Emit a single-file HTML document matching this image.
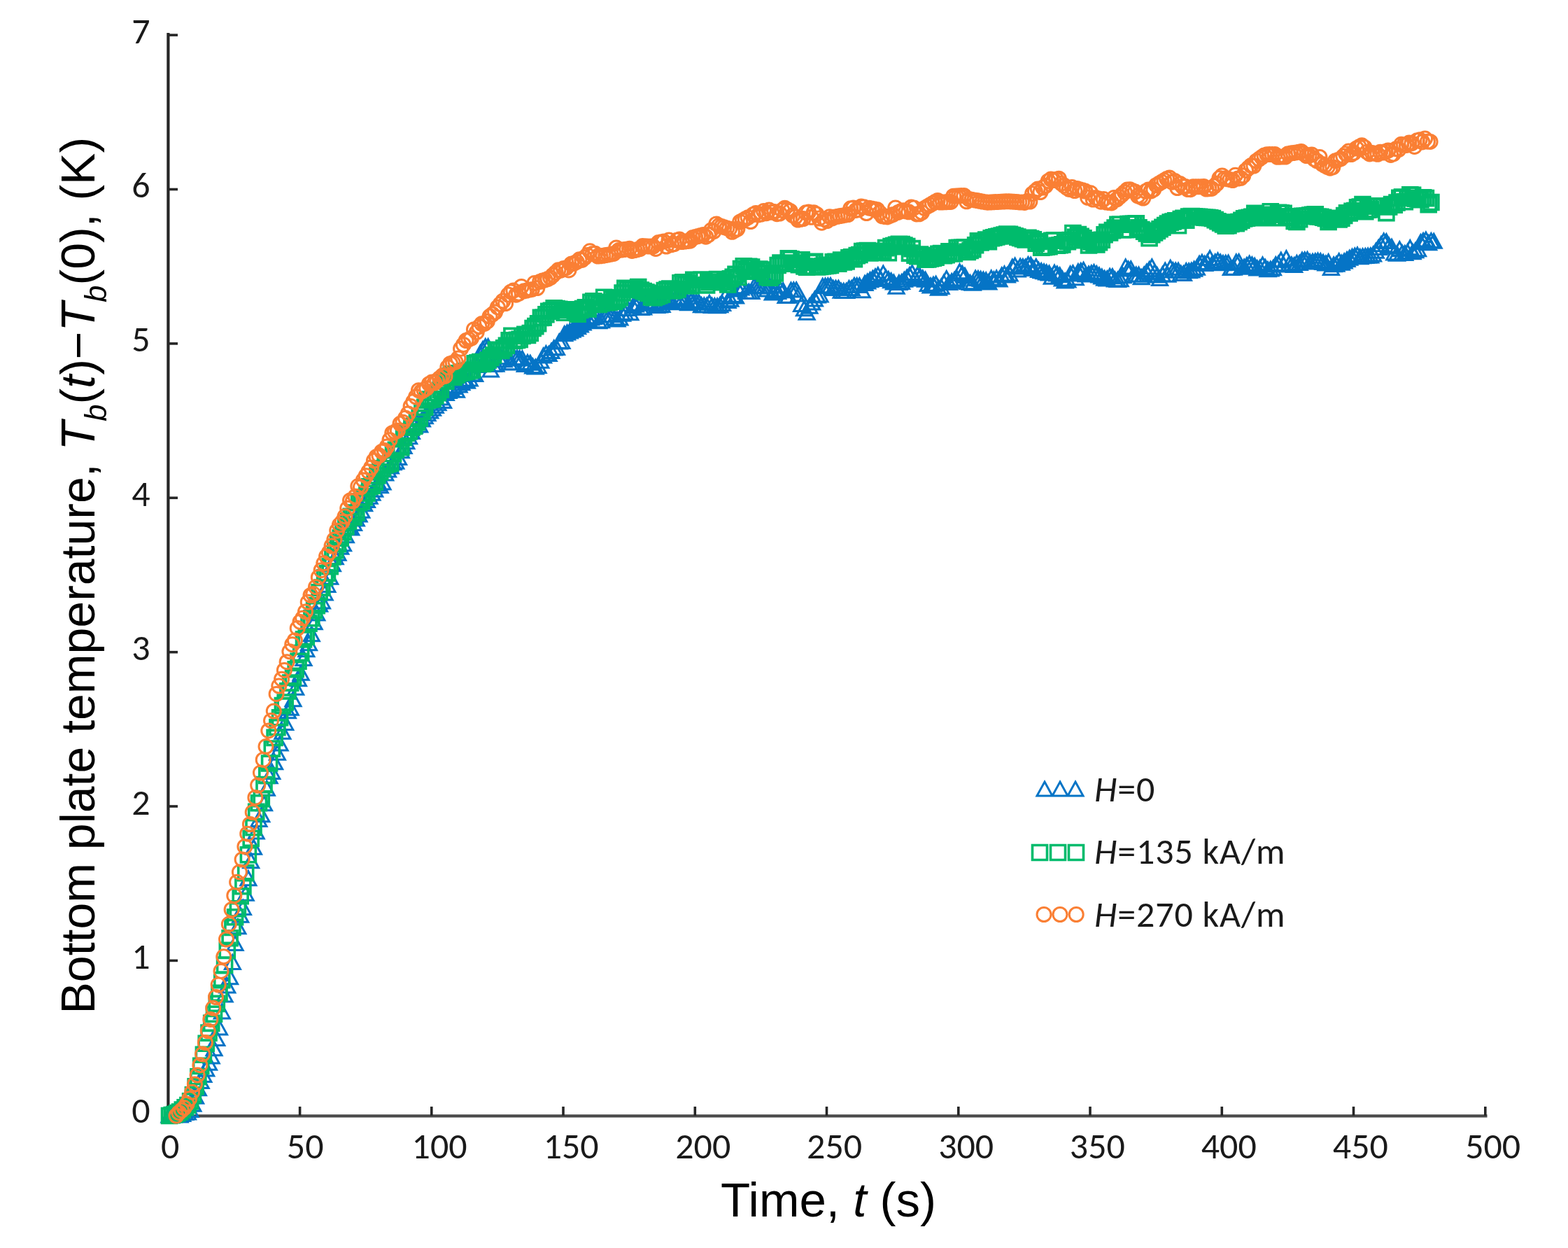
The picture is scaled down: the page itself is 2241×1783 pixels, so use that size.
<!DOCTYPE html>
<html><head><meta charset="utf-8"><title>Bottom plate temperature vs time</title>
<style>
html,body{margin:0;padding:0;background:#fff;}
svg{display:block;}
.tk{font-family:Carlito,"Liberation Sans",sans-serif;font-size:52px;fill:#1a1a1a;}
.ttl{font-family:"Liberation Sans",Arial,sans-serif;font-size:69px;fill:#000;}
.yt{font-size:68px;}
.lg{font-family:Carlito,"Liberation Sans",sans-serif;font-size:52px;fill:#1a1a1a;letter-spacing:0.9px;}
</style></head><body>
<svg width="2241" height="1783" viewBox="0 0 2241 1783">
<rect width="2241" height="1783" fill="#fff"/>
<g>

<g stroke="#262626" fill="none">
<line x1="240.4" y1="47" x2="240.4" y2="1596.5" stroke-width="4.2"/>
<line x1="238.3" y1="1594.4" x2="2125.5" y2="1594.4" stroke-width="4.2" stroke="#4a4a4a"/>
<line x1="240" y1="1592.8" x2="254" y2="1592.8" stroke-width="3.6"/>
<line x1="240" y1="1372.4" x2="254" y2="1372.4" stroke-width="3.6"/>
<line x1="240" y1="1152" x2="254" y2="1152" stroke-width="3.6"/>
<line x1="240" y1="931.7" x2="254" y2="931.7" stroke-width="3.6"/>
<line x1="240" y1="711.3" x2="254" y2="711.3" stroke-width="3.6"/>
<line x1="240" y1="490.9" x2="254" y2="490.9" stroke-width="3.6"/>
<line x1="240" y1="270.5" x2="254" y2="270.5" stroke-width="3.6"/>
<line x1="240" y1="50.1" x2="254" y2="50.1" stroke-width="3.6"/>
<line x1="428.6" y1="1581" x2="428.6" y2="1594" stroke-width="3.6"/>
<line x1="616.8" y1="1581" x2="616.8" y2="1594" stroke-width="3.6"/>
<line x1="805" y1="1581" x2="805" y2="1594" stroke-width="3.6"/>
<line x1="993.3" y1="1581" x2="993.3" y2="1594" stroke-width="3.6"/>
<line x1="1181.5" y1="1581" x2="1181.5" y2="1594" stroke-width="3.6"/>
<line x1="1369.8" y1="1581" x2="1369.8" y2="1594" stroke-width="3.6"/>
<line x1="1558" y1="1581" x2="1558" y2="1594" stroke-width="3.6"/>
<line x1="1746.3" y1="1581" x2="1746.3" y2="1594" stroke-width="3.6"/>
<line x1="1934.5" y1="1581" x2="1934.5" y2="1594" stroke-width="3.6"/>
<line x1="2122.8" y1="1581" x2="2122.8" y2="1594" stroke-width="3.6"/>
</g>
<g class="tk">
<text x="214.5" y="1604.3" text-anchor="end">0</text>
<text x="214.5" y="1383.9" text-anchor="end">1</text>
<text x="214.5" y="1163.5" text-anchor="end">2</text>
<text x="214.5" y="943.2" text-anchor="end">3</text>
<text x="214.5" y="722.8" text-anchor="end">4</text>
<text x="214.5" y="502.4" text-anchor="end">5</text>
<text x="214.5" y="282" text-anchor="end">6</text>
<text x="214.5" y="61.6" text-anchor="end">7</text>
<text x="243.2" y="1655" text-anchor="middle">0</text>
<text x="436.2" y="1655" text-anchor="middle">50</text>
<text x="628.1" y="1655" text-anchor="middle">100</text>
<text x="816.2" y="1655" text-anchor="middle">150</text>
<text x="1004.8" y="1655" text-anchor="middle">200</text>
<text x="1192.6" y="1655" text-anchor="middle">250</text>
<text x="1380.7" y="1655" text-anchor="middle">300</text>
<text x="1568.4" y="1655" text-anchor="middle">350</text>
<text x="1756.3" y="1655" text-anchor="middle">400</text>
<text x="1944.4" y="1655" text-anchor="middle">450</text>
<text x="2133.7" y="1655" text-anchor="middle">500</text>
</g>
<text class="ttl" x="1030" y="1738">Time, <tspan font-style="italic">t</tspan> (s)</text>
<text class="ttl" style="font-size:68px" transform="translate(135 1448.5) rotate(-90)">Bottom plate temperature, <tspan font-style="italic">T</tspan><tspan font-style="italic" font-size="44" dy="17">b</tspan><tspan dy="-17">(</tspan><tspan font-style="italic">t</tspan>)−<tspan font-style="italic">T</tspan><tspan font-style="italic" font-size="44" dy="17">b</tspan><tspan dy="-17">(0), (K)</tspan></text>
<path fill="none" stroke="#0574c6" stroke-width="3" stroke-linejoin="miter" d="M242 1583l11 20h-22zM245.8 1583l11 20h-22zM249.5 1583l11 20h-22zM253.3 1583l11 20h-22zM257.1 1583l11 20h-22zM260.8 1581.5l11 20h-22zM264.6 1579.5l11 20h-22zM268.4 1579.1l11 20h-22zM272.1 1575.5l11 20h-22zM275.9 1567.2l11 20h-22zM279.6 1556.2l11 20h-22zM283.4 1544.8l11 20h-22zM287.2 1534.6l11 20h-22zM290.9 1525.6l11 20h-22zM294.7 1517l11 20h-22zM298.5 1508.3l11 20h-22zM302.2 1498.9l11 20h-22zM306 1487.7l11 20h-22zM309.8 1473.6l11 20h-22zM313.5 1458.1l11 20h-22zM317.3 1434.9l11 20h-22zM321.1 1411.1l11 20h-22zM324.8 1398l11 20h-22zM328.6 1385.8l11 20h-22zM332.4 1364.5l11 20h-22zM336.1 1337.6l11 20h-22zM339.9 1313.7l11 20h-22zM343.7 1297.3l11 20h-22zM347.4 1286.4l11 20h-22zM351.2 1266.3l11 20h-22zM354.9 1244.7l11 20h-22zM358.7 1219.7l11 20h-22zM362.5 1200.3l11 20h-22zM366.2 1178.1l11 20h-22zM370 1160.5l11 20h-22zM373.8 1153.7l11 20h-22zM377.5 1137.8l11 20h-22zM381.3 1116.2l11 20h-22zM385.1 1098.7l11 20h-22zM388.8 1092.4l11 20h-22zM392.6 1078.7l11 20h-22zM396.4 1065.3l11 20h-22zM400.1 1052.1l11 20h-22zM403.9 1035.2l11 20h-22zM407.7 1022.4l11 20h-22zM411.4 1005.8l11 20h-22zM415.2 1001.2l11 20h-22zM419 988.7l11 20h-22zM422.7 972.3l11 20h-22zM426.5 959.8l11 20h-22zM430.2 951.2l11 20h-22zM434 930.6l11 20h-22zM437.8 917.8l11 20h-22zM441.5 908.8l11 20h-22zM445.3 895.8l11 20h-22zM449.1 878.8l11 20h-22zM452.8 865.9l11 20h-22zM456.6 853.3l11 20h-22zM460.4 848.9l11 20h-22zM464.1 836.9l11 20h-22zM467.9 825.4l11 20h-22zM471.7 814.3l11 20h-22zM475.4 795.8l11 20h-22zM479.2 785.8l11 20h-22zM483 780.3l11 20h-22zM486.7 771.3l11 20h-22zM490.5 766.8l11 20h-22zM494.3 754.8l11 20h-22zM498 743.2l11 20h-22zM501.8 744.1l11 20h-22zM505.5 737.4l11 20h-22zM509.3 731l11 20h-22zM513.1 725l11 20h-22zM516.8 719.2l11 20h-22zM520.6 709.7l11 20h-22zM524.4 704.4l11 20h-22zM528.1 699.2l11 20h-22zM531.9 694.2l11 20h-22zM535.7 689.3l11 20h-22zM539.4 680.5l11 20h-22zM543.2 683.7l11 20h-22zM547 678.9l11 20h-22zM550.7 666l11 20h-22zM554.5 661l11 20h-22zM558.3 656l11 20h-22zM562 650.7l11 20h-22zM565.8 649.3l11 20h-22zM569.6 643.6l11 20h-22zM573.3 633.7l11 20h-22zM577.1 627.4l11 20h-22zM580.8 620.8l11 20h-22zM584.6 613.8l11 20h-22zM588.4 606.4l11 20h-22zM592.1 598.6l11 20h-22zM595.9 592.9l11 20h-22zM599.7 596.9l11 20h-22zM603.4 588.9l11 20h-22zM607.2 584.8l11 20h-22zM611 580.8l11 20h-22zM614.7 577l11 20h-22zM618.5 573.2l11 20h-22zM622.3 569.4l11 20h-22zM626 565.7l11 20h-22zM629.8 557.9l11 20h-22zM633.6 562.5l11 20h-22zM637.3 551.4l11 20h-22zM641.1 548.4l11 20h-22zM644.9 545.4l11 20h-22zM648.6 542.4l11 20h-22zM652.4 547.3l11 20h-22zM656.1 540l11 20h-22zM659.9 536.7l11 20h-22zM663.7 533.5l11 20h-22zM667.4 534.2l11 20h-22zM671.2 530.9l11 20h-22zM675 523.7l11 20h-22zM678.7 524.4l11 20h-22zM682.5 511.5l11 20h-22zM686.3 494.2l11 20h-22zM690 488.6l11 20h-22zM693.8 484.7l11 20h-22zM697.6 484.7l11 20h-22zM701.3 518l11 20h-22zM705.1 510.6l11 20h-22zM708.9 510.3l11 20h-22zM712.6 499.8l11 20h-22zM716.4 499.8l11 20h-22zM720.2 503.8l11 20h-22zM723.9 499.8l11 20h-22zM727.7 507.8l11 20h-22zM731.4 508l11 20h-22zM735.2 500.5l11 20h-22zM739 500.9l11 20h-22zM742.7 501.4l11 20h-22zM746.5 501.9l11 20h-22zM750.3 510.6l11 20h-22zM754 507.4l11 20h-22zM757.8 508.3l11 20h-22zM761.6 513.1l11 20h-22zM765.3 514l11 20h-22zM769.1 512.4l11 20h-22zM772.9 505.2l11 20h-22zM776.6 497.9l11 20h-22zM780.4 494.7l11 20h-22zM784.2 495.5l11 20h-22zM787.9 491.4l11 20h-22zM791.7 486.9l11 20h-22zM795.5 486.4l11 20h-22zM799.2 477.9l11 20h-22zM803 477.4l11 20h-22zM806.7 466.7l11 20h-22zM810.5 464.9l11 20h-22zM814.3 463.1l11 20h-22zM818 461.3l11 20h-22zM821.8 459.5l11 20h-22zM825.6 456.8l11 20h-22zM829.3 453.9l11 20h-22zM833.1 451l11 20h-22zM836.9 448.1l11 20h-22zM840.6 445.2l11 20h-22zM844.4 443.9l11 20h-22zM848.2 442.8l11 20h-22zM851.9 441.8l11 20h-22zM855.7 448.8l11 20h-22zM859.5 447.7l11 20h-22zM863.2 439.7l11 20h-22zM867 439.7l11 20h-22zM870.8 439.7l11 20h-22zM874.5 439.8l11 20h-22zM878.3 443.8l11 20h-22zM882 446l11 20h-22zM885.8 444.1l11 20h-22zM889.6 438.3l11 20h-22zM893.3 436.5l11 20h-22zM897.1 430.6l11 20h-22zM900.9 436.8l11 20h-22zM904.6 427l11 20h-22zM908.4 425.1l11 20h-22zM912.2 423.3l11 20h-22zM915.9 429.6l11 20h-22zM919.7 429.1l11 20h-22zM923.5 420.5l11 20h-22zM927.2 419.9l11 20h-22zM931 423.3l11 20h-22zM934.8 422.8l11 20h-22zM938.5 426.4l11 20h-22zM942.3 426l11 20h-22zM946.1 425.6l11 20h-22zM949.8 417.1l11 20h-22zM953.6 420.5l11 20h-22zM957.3 419.1l11 20h-22zM961.1 421.7l11 20h-22zM964.9 416.3l11 20h-22zM968.6 414.9l11 20h-22zM972.4 414.4l11 20h-22zM976.2 415.9l11 20h-22zM979.9 417.3l11 20h-22zM983.7 422.8l11 20h-22zM987.5 420.2l11 20h-22zM991.2 421.1l11 20h-22zM995 421.3l11 20h-22zM998.8 421.5l11 20h-22zM1002.5 425.7l11 20h-22zM1006.3 425.9l11 20h-22zM1010.1 426.1l11 20h-22zM1013.8 422.3l11 20h-22zM1017.6 426.4l11 20h-22zM1021.4 426.6l11 20h-22zM1025.1 426.8l11 20h-22zM1028.9 425.7l11 20h-22zM1032.6 423.6l11 20h-22zM1036.4 413.5l11 20h-22zM1040.2 419.4l11 20h-22zM1043.9 417.3l11 20h-22zM1047.7 411.2l11 20h-22zM1051.5 413.1l11 20h-22zM1055.2 403l11 20h-22zM1059 400.9l11 20h-22zM1062.8 398.8l11 20h-22zM1066.5 406.3l11 20h-22zM1070.3 406.4l11 20h-22zM1074.1 406.5l11 20h-22zM1077.8 398.6l11 20h-22zM1081.6 398.6l11 20h-22zM1085.4 398.7l11 20h-22zM1089.1 398.8l11 20h-22zM1092.9 398.9l11 20h-22zM1096.7 403l11 20h-22zM1100.4 399l11 20h-22zM1104.2 408.1l11 20h-22zM1107.9 405.2l11 20h-22zM1111.7 406.4l11 20h-22zM1115.5 403.5l11 20h-22zM1119.2 404.7l11 20h-22zM1123 412.5l11 20h-22zM1126.8 412.3l11 20h-22zM1130.5 404.1l11 20h-22zM1134.3 403.9l11 20h-22zM1138.1 403.8l11 20h-22zM1141.8 410.1l11 20h-22zM1145.6 424.4l11 20h-22zM1149.4 430.7l11 20h-22zM1153.1 436.3l11 20h-22zM1156.9 427.2l11 20h-22zM1160.7 422.1l11 20h-22zM1164.4 417l11 20h-22zM1168.2 412l11 20h-22zM1172 410.9l11 20h-22zM1175.7 398.4l11 20h-22zM1179.5 398.2l11 20h-22zM1183.3 397.9l11 20h-22zM1187 397.7l11 20h-22zM1190.8 401.4l11 20h-22zM1194.5 401.3l11 20h-22zM1198.3 401.3l11 20h-22zM1202.1 405.3l11 20h-22zM1205.8 405.4l11 20h-22zM1209.6 405.4l11 20h-22zM1213.4 401.5l11 20h-22zM1217.1 401.5l11 20h-22zM1220.9 397.5l11 20h-22zM1224.7 397.6l11 20h-22zM1228.4 397.6l11 20h-22zM1232.2 404.8l11 20h-22zM1236 394.4l11 20h-22zM1239.7 392l11 20h-22zM1243.5 389.7l11 20h-22zM1247.3 387.3l11 20h-22zM1251 384.9l11 20h-22zM1254.8 382.6l11 20h-22zM1258.6 388.2l11 20h-22zM1262.3 380.1l11 20h-22zM1266.1 386.3l11 20h-22zM1269.8 388.6l11 20h-22zM1273.6 390.8l11 20h-22zM1277.4 393.1l11 20h-22zM1281.1 399.3l11 20h-22zM1284.9 393.6l11 20h-22zM1288.7 392.6l11 20h-22zM1292.4 389.3l11 20h-22zM1296.2 386l11 20h-22zM1300 382.7l11 20h-22zM1303.7 379.4l11 20h-22zM1307.5 387.9l11 20h-22zM1311.3 382.2l11 20h-22zM1315 384.5l11 20h-22zM1318.8 386.9l11 20h-22zM1322.6 389.2l11 20h-22zM1326.3 395.6l11 20h-22zM1330.1 397.9l11 20h-22zM1333.9 396.3l11 20h-22zM1337.6 395.3l11 20h-22zM1341.4 401.3l11 20h-22zM1345.1 399.4l11 20h-22zM1348.9 393.4l11 20h-22zM1352.7 387.5l11 20h-22zM1356.4 393.5l11 20h-22zM1360.2 391.6l11 20h-22zM1364 389.6l11 20h-22zM1367.7 387.7l11 20h-22zM1371.5 377.7l11 20h-22zM1375.3 380.4l11 20h-22zM1379 383.5l11 20h-22zM1382.8 392.8l11 20h-22zM1386.6 393.6l11 20h-22zM1390.3 394.3l11 20h-22zM1394.1 387l11 20h-22zM1397.9 387.7l11 20h-22zM1401.6 388.4l11 20h-22zM1405.4 389.2l11 20h-22zM1409.2 389.9l11 20h-22zM1412.9 392.9l11 20h-22zM1416.7 386.9l11 20h-22zM1420.4 388.9l11 20h-22zM1424.2 386.9l11 20h-22zM1428 388.9l11 20h-22zM1431.7 382.9l11 20h-22zM1435.5 380.9l11 20h-22zM1439.3 383l11 20h-22zM1443 381l11 20h-22zM1446.8 371l11 20h-22zM1450.6 369.1l11 20h-22zM1454.3 375.1l11 20h-22zM1458.1 370.2l11 20h-22zM1461.9 370.6l11 20h-22zM1465.6 371.1l11 20h-22zM1469.4 367.5l11 20h-22zM1473.2 368.2l11 20h-22zM1476.9 373.4l11 20h-22zM1480.7 370.5l11 20h-22zM1484.5 375.6l11 20h-22zM1488.2 376.7l11 20h-22zM1492 377.8l11 20h-22zM1495.7 378.9l11 20h-22zM1499.5 380.1l11 20h-22zM1503.3 385.3l11 20h-22zM1507 379.2l11 20h-22zM1510.8 381l11 20h-22zM1514.6 382.8l11 20h-22zM1518.3 388.1l11 20h-22zM1522.1 391.1l11 20h-22zM1525.9 390l11 20h-22zM1529.6 380.9l11 20h-22zM1533.4 379.8l11 20h-22zM1537.2 386.7l11 20h-22zM1540.9 377.6l11 20h-22zM1544.7 376.5l11 20h-22zM1548.5 375.3l11 20h-22zM1552.2 382.1l11 20h-22zM1556 381l11 20h-22zM1559.8 379.8l11 20h-22zM1563.5 378.7l11 20h-22zM1567.3 380.7l11 20h-22zM1571 382.9l11 20h-22zM1574.8 385.1l11 20h-22zM1578.6 387.3l11 20h-22zM1582.3 387.9l11 20h-22zM1586.1 384.3l11 20h-22zM1589.9 384.7l11 20h-22zM1593.6 389.1l11 20h-22zM1597.4 389.4l11 20h-22zM1601.2 388.8l11 20h-22zM1604.9 383.8l11 20h-22zM1608.7 370.9l11 20h-22zM1612.5 374l11 20h-22zM1616.2 373.8l11 20h-22zM1620 381.9l11 20h-22zM1623.8 382.1l11 20h-22zM1627.5 382.2l11 20h-22zM1631.3 385.7l11 20h-22zM1635.1 382l11 20h-22zM1638.8 378.2l11 20h-22zM1642.6 374.5l11 20h-22zM1646.3 370.8l11 20h-22zM1650.1 378.9l11 20h-22zM1653.9 382.9l11 20h-22zM1657.6 387.6l11 20h-22zM1661.4 381.8l11 20h-22zM1665.2 376l11 20h-22zM1668.9 382.2l11 20h-22zM1672.7 372.3l11 20h-22zM1676.5 375.9l11 20h-22zM1680.2 376l11 20h-22zM1684 376.2l11 20h-22zM1687.8 380.3l11 20h-22zM1691.5 380.5l11 20h-22zM1695.3 376.6l11 20h-22zM1699.1 376.8l11 20h-22zM1702.8 376.1l11 20h-22zM1706.6 374.2l11 20h-22zM1710.4 372.3l11 20h-22zM1714.1 366.3l11 20h-22zM1717.9 364.4l11 20h-22zM1721.6 366.4l11 20h-22zM1725.4 364.5l11 20h-22zM1729.2 358.6l11 20h-22zM1732.9 365.7l11 20h-22zM1736.7 363.8l11 20h-22zM1740.5 361.9l11 20h-22zM1744.2 364l11 20h-22zM1748 365.7l11 20h-22zM1751.8 365.4l11 20h-22zM1755.5 365l11 20h-22zM1759.3 372.6l11 20h-22zM1763.1 372.3l11 20h-22zM1766.8 363.9l11 20h-22zM1770.6 363.6l11 20h-22zM1774.4 371.2l11 20h-22zM1778.1 371l11 20h-22zM1781.9 368.6l11 20h-22zM1785.7 366.2l11 20h-22zM1789.4 367.8l11 20h-22zM1793.2 369.4l11 20h-22zM1796.9 372.9l11 20h-22zM1800.7 372.4l11 20h-22zM1804.5 367.9l11 20h-22zM1808.2 371.3l11 20h-22zM1812 374.8l11 20h-22zM1815.8 374.1l11 20h-22zM1819.5 372.8l11 20h-22zM1823.3 367.6l11 20h-22zM1827.1 366.4l11 20h-22zM1830.8 361.2l11 20h-22zM1834.6 367.9l11 20h-22zM1838.4 358.7l11 20h-22zM1842.1 367.1l11 20h-22zM1845.9 367.8l11 20h-22zM1849.7 368.6l11 20h-22zM1853.4 365.4l11 20h-22zM1857.2 365.5l11 20h-22zM1861 361.2l11 20h-22zM1864.7 360.8l11 20h-22zM1868.5 360.4l11 20h-22zM1872.2 363.9l11 20h-22zM1876 363.3l11 20h-22zM1879.8 362.8l11 20h-22zM1883.5 362.2l11 20h-22zM1887.3 362.7l11 20h-22zM1891.1 364.4l11 20h-22zM1894.8 366l11 20h-22zM1898.6 363.7l11 20h-22zM1902.4 372.4l11 20h-22zM1906.1 367.8l11 20h-22zM1909.9 367.2l11 20h-22zM1913.7 362.6l11 20h-22zM1917.4 365.2l11 20h-22zM1921.2 362.9l11 20h-22zM1925 360.6l11 20h-22zM1928.7 358.3l11 20h-22zM1932.5 356.4l11 20h-22zM1936.3 355.1l11 20h-22zM1940 353.9l11 20h-22zM1943.8 356.7l11 20h-22zM1947.5 355.8l11 20h-22zM1951.3 355.5l11 20h-22zM1955.1 355.2l11 20h-22zM1958.8 354.9l11 20h-22zM1962.6 353.1l11 20h-22zM1966.4 348.3l11 20h-22zM1970.1 343.5l11 20h-22zM1973.9 338.7l11 20h-22zM1977.7 333.9l11 20h-22zM1981.4 334.6l11 20h-22zM1985.2 340.4l11 20h-22zM1989 342.3l11 20h-22zM1992.7 350.9l11 20h-22zM1996.5 352.2l11 20h-22zM2000.3 345.6l11 20h-22zM2004 351l11 20h-22zM2007.8 351.5l11 20h-22zM2011.6 349.6l11 20h-22zM2015.3 343.7l11 20h-22zM2019.1 349.8l11 20h-22zM2022.8 347.8l11 20h-22zM2026.6 345.7l11 20h-22zM2030.4 335.6l11 20h-22zM2034.1 333.5l11 20h-22zM2037.9 332l11 20h-22zM2041.7 336.8l11 20h-22zM2045.4 333.6l11 20h-22zM2049.2 334.3l11 20h-22z"/>
<path fill="none" stroke="#00bb6c" stroke-width="3.6" d="M231.5 1583.5h21v21h-21zM235.3 1582.6h21v21h-21zM239 1581.6h21v21h-21zM242.8 1579.9h21v21h-21zM246.6 1578h21v21h-21zM250.3 1575h21v21h-21zM254.1 1571.8h21v21h-21zM257.9 1568.5h21v21h-21zM261.6 1562.9h21v21h-21zM265.4 1553.8h21v21h-21zM269.1 1541.9h21v21h-21zM272.9 1527.8h21v21h-21zM276.7 1512.4h21v21h-21zM280.4 1496.3h21v21h-21zM284.2 1480.3h21v21h-21zM288 1465.1h21v21h-21zM291.7 1451.4h21v21h-21zM295.5 1438.3h21v21h-21zM299.3 1423.4h21v21h-21zM303 1408.4h21v21h-21zM306.8 1389.7h21v21h-21zM310.6 1368.1h21v21h-21zM314.3 1347.4h21v21h-21zM318.1 1329.8h21v21h-21zM321.9 1314.4h21v21h-21zM325.6 1299.8h21v21h-21zM329.4 1287.8h21v21h-21zM333.2 1269.7h21v21h-21zM336.9 1255.7h21v21h-21zM340.7 1236.6h21v21h-21zM344.4 1210.7h21v21h-21zM348.2 1187.4h21v21h-21zM352 1171.7h21v21h-21zM355.7 1149.3h21v21h-21zM359.5 1136.8h21v21h-21zM363.3 1130.7h21v21h-21zM367 1110.6h21v21h-21zM370.8 1097.5h21v21h-21zM374.6 1080h21v21h-21zM378.3 1059.1h21v21h-21zM382.1 1043.4h21v21h-21zM385.9 1028.6h21v21h-21zM389.6 1014.7h21v21h-21zM393.4 997.6h21v21h-21zM397.2 993h21v21h-21zM400.9 976.9h21v21h-21zM404.7 965.1h21v21h-21zM408.5 957.4h21v21h-21zM412.2 945.8h21v21h-21zM416 934.2h21v21h-21zM419.7 922.5h21v21h-21zM423.5 903h21v21h-21zM427.3 899.5h21v21h-21zM431 880.1h21v21h-21zM434.8 872.8h21v21h-21zM438.6 861.6h21v21h-21zM442.3 854.6h21v21h-21zM446.1 835.8h21v21h-21zM449.9 829.1h21v21h-21zM453.6 814.7h21v21h-21zM457.4 808.5h21v21h-21zM461.2 798.6h21v21h-21zM464.9 785h21v21h-21zM468.7 775.7h21v21h-21zM472.5 766.7h21v21h-21zM476.2 758.1h21v21h-21zM480 749.8h21v21h-21zM483.8 741.9h21v21h-21zM487.5 734.4h21v21h-21zM491.3 727.3h21v21h-21zM495 728.5h21v21h-21zM498.8 722h21v21h-21zM502.6 707.7h21v21h-21zM506.3 705.7h21v21h-21zM510.1 699.9h21v21h-21zM513.9 694.3h21v21h-21zM517.6 684.8h21v21h-21zM521.4 683.4h21v21h-21zM525.2 678.2h21v21h-21zM528.9 669h21v21h-21zM532.7 663.9h21v21h-21zM536.5 658.7h21v21h-21zM540.2 653.6h21v21h-21zM544 652.4h21v21h-21zM547.8 651.1h21v21h-21zM551.5 637.7h21v21h-21zM555.3 632.2h21v21h-21zM559.1 626.6h21v21h-21zM562.8 628.7h21v21h-21zM566.6 614.7h21v21h-21zM570.3 608.3h21v21h-21zM574.1 606h21v21h-21zM577.9 600.2h21v21h-21zM581.6 598.4h21v21h-21zM585.4 592.6h21v21h-21zM589.2 586.9h21v21h-21zM592.9 577.1h21v21h-21zM596.7 571.3h21v21h-21zM600.5 561.5h21v21h-21zM604.2 560.1h21v21h-21zM608 559.6h21v21h-21zM611.8 555.1h21v21h-21zM615.5 550.6h21v21h-21zM619.3 546.1h21v21h-21zM623.1 533.6h21v21h-21zM626.8 534.1h21v21h-21zM630.6 526.9h21v21h-21zM634.4 523.7h21v21h-21zM638.1 528.5h21v21h-21zM641.9 525.3h21v21h-21zM645.6 522.7h21v21h-21zM649.4 521.7h21v21h-21zM653.2 520.8h21v21h-21zM656.9 519.9h21v21h-21zM660.7 519h21v21h-21zM664.5 518h21v21h-21zM668.2 508.9h21v21h-21zM672 507.7h21v21h-21zM675.8 506.6h21v21h-21zM679.5 509.5h21v21h-21zM683.3 507.7h21v21h-21zM687.1 504.1h21v21h-21zM690.8 500.5h21v21h-21zM694.6 497h21v21h-21zM698.4 489.4h21v21h-21zM702.1 489.9h21v21h-21zM705.9 490.4h21v21h-21zM709.7 486.9h21v21h-21zM713.4 483.3h21v21h-21zM717.2 475.8h21v21h-21zM720.9 469.4h21v21h-21zM724.7 476.4h21v21h-21zM728.5 475.4h21v21h-21zM732.2 474.4h21v21h-21zM736 469.4h21v21h-21zM739.8 467.4h21v21h-21zM743.5 468.5h21v21h-21zM747.3 465.5h21v21h-21zM751.1 458.5h21v21h-21zM754.8 455.6h21v21h-21zM758.6 451.8h21v21h-21zM762.4 443.4h21v21h-21zM766.1 443.1h21v21h-21zM769.9 438.7h21v21h-21zM773.7 434.3h21v21h-21zM777.4 433.2h21v21h-21zM781.2 429.9h21v21h-21zM785 430.6h21v21h-21zM788.7 431.3h21v21h-21zM792.5 432h21v21h-21zM796.2 436.2h21v21h-21zM800 432.1h21v21h-21zM803.8 432h21v21h-21zM807.5 431.9h21v21h-21zM811.3 435.8h21v21h-21zM815.1 438.3h21v21h-21zM818.8 432.5h21v21h-21zM822.6 430.6h21v21h-21zM826.4 428.8h21v21h-21zM830.1 430.9h21v21h-21zM833.9 421.3h21v21h-21zM837.7 419.7h21v21h-21zM841.4 422h21v21h-21zM845.2 424.4h21v21h-21zM849 422.8h21v21h-21zM852.7 414.3h21v21h-21zM856.5 421.8h21v21h-21zM860.3 421.3h21v21h-21zM864 416.8h21v21h-21zM867.8 420.3h21v21h-21zM871.5 417.5h21v21h-21zM875.3 414.8h21v21h-21zM879.1 408h21v21h-21zM882.8 401.2h21v21h-21zM886.6 402.7h21v21h-21zM890.4 403h21v21h-21zM894.1 403.2h21v21h-21zM897.9 403.4h21v21h-21zM901.7 399.6h21v21h-21zM905.4 404h21v21h-21zM909.2 405.5h21v21h-21zM913 407h21v21h-21zM916.7 408.4h21v21h-21zM920.5 413.9h21v21h-21zM924.3 414.8h21v21h-21zM928 413.2h21v21h-21zM931.8 411.7h21v21h-21zM935.6 410.1h21v21h-21zM939.3 404.5h21v21h-21zM943.1 403.1h21v21h-21zM946.8 402h21v21h-21zM950.6 405h21v21h-21zM954.4 403.9h21v21h-21zM958.1 402.8h21v21h-21zM961.9 393.8h21v21h-21zM965.7 392.8h21v21h-21zM969.4 395.8h21v21h-21zM973.2 394.8h21v21h-21zM977 397.9h21v21h-21zM980.7 389.3h21v21h-21zM984.5 389.2h21v21h-21zM988.3 389.2h21v21h-21zM992 389.1h21v21h-21zM995.8 389h21v21h-21zM999.6 396.9h21v21h-21zM1003.3 392.8h21v21h-21zM1007.1 392.7h21v21h-21zM1010.9 392.6h21v21h-21zM1014.6 388.5h21v21h-21zM1018.4 392.3h21v21h-21zM1022.1 392.2h21v21h-21zM1025.9 392.1h21v21h-21zM1029.7 396h21v21h-21zM1033.4 387.9h21v21h-21zM1037.2 385.3h21v21h-21zM1041 381.4h21v21h-21zM1044.7 385.5h21v21h-21zM1048.5 373.6h21v21h-21zM1052.3 369.7h21v21h-21zM1056 377.3h21v21h-21zM1059.8 370.2h21v21h-21zM1063.6 371.1h21v21h-21zM1067.3 376h21v21h-21zM1071.1 376.9h21v21h-21zM1074.9 374h21v21h-21zM1078.6 375.1h21v21h-21zM1082.4 380.1h21v21h-21zM1086.2 385.2h21v21h-21zM1089.9 386.3h21v21h-21zM1093.7 383.4h21v21h-21zM1097.4 380h21v21h-21zM1101.2 368.5h21v21h-21zM1105 365.1h21v21h-21zM1108.7 365.7h21v21h-21zM1112.5 366.2h21v21h-21zM1116.3 358.8h21v21h-21zM1120 359.9h21v21h-21zM1123.8 365.1h21v21h-21zM1127.6 366.3h21v21h-21zM1131.3 367.6h21v21h-21zM1135.1 360.8h21v21h-21zM1138.9 370h21v21h-21zM1142.6 371.3h21v21h-21zM1146.4 364.4h21v21h-21zM1150.2 363.9h21v21h-21zM1153.9 363.4h21v21h-21zM1157.7 370.9h21v21h-21zM1161.5 370.4h21v21h-21zM1165.2 369.9h21v21h-21zM1169 369.4h21v21h-21zM1172.8 368.9h21v21h-21zM1176.5 368.4h21v21h-21zM1180.3 363.9h21v21h-21zM1184 363.3h21v21h-21zM1187.8 366.2h21v21h-21zM1191.6 361.1h21v21h-21zM1195.3 364h21v21h-21zM1199.1 363h21v21h-21zM1202.9 357.9h21v21h-21zM1206.6 356.8h21v21h-21zM1210.4 359.7h21v21h-21zM1214.2 354.6h21v21h-21zM1217.9 353.5h21v21h-21zM1221.7 348.6h21v21h-21zM1225.5 348.1h21v21h-21zM1229.2 347.5h21v21h-21zM1233 351h21v21h-21zM1236.8 350.4h21v21h-21zM1240.5 349.8h21v21h-21zM1244.3 349.3h21v21h-21zM1248.1 348.7h21v21h-21zM1251.8 348.2h21v21h-21zM1255.6 343.6h21v21h-21zM1259.3 350.8h21v21h-21zM1263.1 341.6h21v21h-21zM1266.9 340.5h21v21h-21zM1270.6 339.4h21v21h-21zM1274.4 338.2h21v21h-21zM1278.2 338.6h21v21h-21zM1281.9 340.1h21v21h-21zM1285.7 341.6h21v21h-21zM1289.5 351.1h21v21h-21zM1293.2 344.6h21v21h-21zM1297 354.1h21v21h-21zM1300.8 355.6h21v21h-21zM1304.5 353.1h21v21h-21zM1308.3 354.6h21v21h-21zM1312.1 360.1h21v21h-21zM1315.8 359.9h21v21h-21zM1319.6 359h21v21h-21zM1323.4 358.1h21v21h-21zM1327.1 357.2h21v21h-21zM1330.9 352.4h21v21h-21zM1334.6 351.5h21v21h-21zM1338.4 354.6h21v21h-21zM1342.2 353.7h21v21h-21zM1345.9 348.9h21v21h-21zM1349.7 352h21v21h-21zM1353.5 351.7h21v21h-21zM1357.2 343.5h21v21h-21zM1361 343.3h21v21h-21zM1364.8 343.1h21v21h-21zM1368.5 342.9h21v21h-21zM1372.3 349.4h21v21h-21zM1376.1 347.5h21v21h-21zM1379.8 345.6h21v21h-21zM1383.6 339.7h21v21h-21zM1387.4 333.8h21v21h-21zM1391.1 335.9h21v21h-21zM1394.9 334h21v21h-21zM1398.7 332.1h21v21h-21zM1402.4 334.7h21v21h-21zM1406.2 329.8h21v21h-21zM1409.9 328.9h21v21h-21zM1413.7 327.9h21v21h-21zM1417.5 327h21v21h-21zM1421.2 326h21v21h-21zM1425 325.1h21v21h-21zM1428.8 324.1h21v21h-21zM1432.5 324.3h21v21h-21zM1436.3 325.5h21v21h-21zM1440.1 326.8h21v21h-21zM1443.8 328.1h21v21h-21zM1447.6 329.4h21v21h-21zM1451.4 330.7h21v21h-21zM1455.1 332h21v21h-21zM1458.9 329.3h21v21h-21zM1462.7 330.6h21v21h-21zM1466.4 331.9h21v21h-21zM1470.2 337.2h21v21h-21zM1474 334.5h21v21h-21zM1477.7 343.2h21v21h-21zM1481.5 342.7h21v21h-21zM1485.2 342.2h21v21h-21zM1489 341.7h21v21h-21zM1492.8 333.2h21v21h-21zM1496.5 332.7h21v21h-21zM1500.3 340.2h21v21h-21zM1504.1 339.7h21v21h-21zM1507.8 338.9h21v21h-21zM1511.6 332.8h21v21h-21zM1515.4 334.7h21v21h-21zM1519.1 332.6h21v21h-21zM1522.9 322.5h21v21h-21zM1526.7 328.4h21v21h-21zM1530.4 324.5h21v21h-21zM1534.2 327.2h21v21h-21zM1538 329.9h21v21h-21zM1541.7 332.8h21v21h-21zM1545.5 339.9h21v21h-21zM1549.3 335h21v21h-21zM1553 338.1h21v21h-21zM1556.8 339h21v21h-21zM1560.5 335.6h21v21h-21zM1564.3 332.2h21v21h-21zM1568.1 324.8h21v21h-21zM1571.8 321.4h21v21h-21zM1575.6 322h21v21h-21zM1579.4 318.6h21v21h-21zM1583.1 315.1h21v21h-21zM1586.9 310.3h21v21h-21zM1590.7 310.1h21v21h-21zM1594.4 317.9h21v21h-21zM1598.2 317.7h21v21h-21zM1602 309.5h21v21h-21zM1605.7 309.2h21v21h-21zM1609.5 309h21v21h-21zM1613.3 308.8h21v21h-21zM1617 314.7h21v21h-21zM1620.8 317.5h21v21h-21zM1624.6 320.2h21v21h-21zM1628.3 323h21v21h-21zM1632.1 329.8h21v21h-21zM1635.8 324.6h21v21h-21zM1639.6 322h21v21h-21zM1643.4 319.4h21v21h-21zM1647.1 316.8h21v21h-21zM1650.9 314.2h21v21h-21zM1654.7 311.6h21v21h-21zM1658.4 309h21v21h-21zM1662.2 307.1h21v21h-21zM1666 306h21v21h-21zM1669.7 304.8h21v21h-21zM1673.5 311.7h21v21h-21zM1677.3 302.5h21v21h-21zM1681 301.4h21v21h-21zM1684.8 304.2h21v21h-21zM1688.6 299.1h21v21h-21zM1692.3 298.5h21v21h-21zM1696.1 298.8h21v21h-21zM1699.9 299.1h21v21h-21zM1703.6 299.4h21v21h-21zM1707.4 299.8h21v21h-21zM1711.1 300.1h21v21h-21zM1714.9 300.4h21v21h-21zM1718.7 300.8h21v21h-21zM1722.4 301.5h21v21h-21zM1726.2 303.6h21v21h-21zM1730 305.7h21v21h-21zM1733.7 307.9h21v21h-21zM1737.5 310h21v21h-21zM1741.3 312.1h21v21h-21zM1745 311.7h21v21h-21zM1748.8 309.4h21v21h-21zM1752.6 307.1h21v21h-21zM1756.3 308.8h21v21h-21zM1760.1 306.5h21v21h-21zM1763.9 304.2h21v21h-21zM1767.6 301.9h21v21h-21zM1771.4 301.1h21v21h-21zM1775.2 300.2h21v21h-21zM1778.9 299.3h21v21h-21zM1782.7 294.4h21v21h-21zM1786.4 297.5h21v21h-21zM1790.2 300.6h21v21h-21zM1794 299.7h21v21h-21zM1797.7 298.8h21v21h-21zM1801.5 299.2h21v21h-21zM1805.3 291.7h21v21h-21zM1809 296.2h21v21h-21zM1812.8 300.7h21v21h-21zM1816.6 293.2h21v21h-21zM1820.3 293.7h21v21h-21zM1824.1 294.2h21v21h-21zM1827.9 298.7h21v21h-21zM1831.6 299.6h21v21h-21zM1835.4 300.6h21v21h-21zM1839.2 305.5h21v21h-21zM1842.9 306.5h21v21h-21zM1846.7 302.7h21v21h-21zM1850.5 298.4h21v21h-21zM1854.2 298h21v21h-21zM1858 297.7h21v21h-21zM1861.7 297.1h21v21h-21zM1865.5 296.4h21v21h-21zM1869.3 295.7h21v21h-21zM1873 299h21v21h-21zM1876.8 299.2h21v21h-21zM1880.6 300.3h21v21h-21zM1884.3 301.4h21v21h-21zM1888.1 306.4h21v21h-21zM1891.9 303h21v21h-21zM1895.6 303h21v21h-21zM1899.4 303h21v21h-21zM1903.2 302.9h21v21h-21zM1906.9 301.3h21v21h-21zM1910.7 297.5h21v21h-21zM1914.5 293.7h21v21h-21zM1918.2 293.9h21v21h-21zM1922 291.4h21v21h-21zM1925.8 290.6h21v21h-21zM1929.5 285.9h21v21h-21zM1933.3 285.1h21v21h-21zM1937 281.6h21v21h-21zM1940.8 291.8h21v21h-21zM1944.6 289.1h21v21h-21zM1948.3 288.7h21v21h-21zM1952.1 284.3h21v21h-21zM1955.9 283.9h21v21h-21zM1959.6 283.8h21v21h-21zM1963.4 284.4h21v21h-21zM1967.2 285h21v21h-21zM1970.9 293.6h21v21h-21zM1974.7 284.9h21v21h-21zM1978.5 281.6h21v21h-21zM1982.2 282.3h21v21h-21zM1986 279h21v21h-21zM1989.8 272.3h21v21h-21zM1993.5 271h21v21h-21zM1997.3 277.7h21v21h-21zM2001.1 272.5h21v21h-21zM2004.8 267.7h21v21h-21zM2008.6 268.4h21v21h-21zM2012.3 273.2h21v21h-21zM2016.1 273.9h21v21h-21zM2019.9 274.7h21v21h-21zM2023.6 271.7h21v21h-21zM2027.4 272.6h21v21h-21zM2031.2 281.6h21v21h-21zM2034.9 278.5h21v21h-21z"/>
<path fill="none" stroke="#fa7f34" stroke-width="3" d="M242 1594a10 10 0 1 0 20 0a10 10 0 1 0 -20 0M245.8 1589.7a10 10 0 1 0 20 0a10 10 0 1 0 -20 0M249.5 1586.4a10 10 0 1 0 20 0a10 10 0 1 0 -20 0M253.3 1582.8a10 10 0 1 0 20 0a10 10 0 1 0 -20 0M257.1 1577.3a10 10 0 1 0 20 0a10 10 0 1 0 -20 0M260.8 1569.7a10 10 0 1 0 20 0a10 10 0 1 0 -20 0M264.6 1560.2a10 10 0 1 0 20 0a10 10 0 1 0 -20 0M268.4 1549a10 10 0 1 0 20 0a10 10 0 1 0 -20 0M272.1 1536.1a10 10 0 1 0 20 0a10 10 0 1 0 -20 0M275.9 1521.7a10 10 0 1 0 20 0a10 10 0 1 0 -20 0M279.6 1506a10 10 0 1 0 20 0a10 10 0 1 0 -20 0M283.4 1489.5a10 10 0 1 0 20 0a10 10 0 1 0 -20 0M287.2 1472.8a10 10 0 1 0 20 0a10 10 0 1 0 -20 0M290.9 1456.4a10 10 0 1 0 20 0a10 10 0 1 0 -20 0M294.7 1440.3a10 10 0 1 0 20 0a10 10 0 1 0 -20 0M298.5 1424.5a10 10 0 1 0 20 0a10 10 0 1 0 -20 0M302.2 1407a10 10 0 1 0 20 0a10 10 0 1 0 -20 0M306 1387.4a10 10 0 1 0 20 0a10 10 0 1 0 -20 0M309.8 1366.8a10 10 0 1 0 20 0a10 10 0 1 0 -20 0M313.5 1342a10 10 0 1 0 20 0a10 10 0 1 0 -20 0M317.3 1320.3a10 10 0 1 0 20 0a10 10 0 1 0 -20 0M321.1 1299.5a10 10 0 1 0 20 0a10 10 0 1 0 -20 0M324.8 1279.4a10 10 0 1 0 20 0a10 10 0 1 0 -20 0M328.6 1260.3a10 10 0 1 0 20 0a10 10 0 1 0 -20 0M332.4 1245.9a10 10 0 1 0 20 0a10 10 0 1 0 -20 0M336.1 1228a10 10 0 1 0 20 0a10 10 0 1 0 -20 0M339.9 1209.5a10 10 0 1 0 20 0a10 10 0 1 0 -20 0M343.7 1191.2a10 10 0 1 0 20 0a10 10 0 1 0 -20 0M347.4 1177.5a10 10 0 1 0 20 0a10 10 0 1 0 -20 0M351.2 1160.5a10 10 0 1 0 20 0a10 10 0 1 0 -20 0M354.9 1139.4a10 10 0 1 0 20 0a10 10 0 1 0 -20 0M358.7 1122a10 10 0 1 0 20 0a10 10 0 1 0 -20 0M362.5 1104a10 10 0 1 0 20 0a10 10 0 1 0 -20 0M366.2 1085.4a10 10 0 1 0 20 0a10 10 0 1 0 -20 0M370 1066.6a10 10 0 1 0 20 0a10 10 0 1 0 -20 0M373.8 1043.9a10 10 0 1 0 20 0a10 10 0 1 0 -20 0M377.5 1029.6a10 10 0 1 0 20 0a10 10 0 1 0 -20 0M381.3 1016a10 10 0 1 0 20 0a10 10 0 1 0 -20 0M385.1 991.4a10 10 0 1 0 20 0a10 10 0 1 0 -20 0M388.8 980.1a10 10 0 1 0 20 0a10 10 0 1 0 -20 0M392.6 970.2a10 10 0 1 0 20 0a10 10 0 1 0 -20 0M396.4 957.4a10 10 0 1 0 20 0a10 10 0 1 0 -20 0M400.1 945.7a10 10 0 1 0 20 0a10 10 0 1 0 -20 0M403.9 930.8a10 10 0 1 0 20 0a10 10 0 1 0 -20 0M407.7 920.7a10 10 0 1 0 20 0a10 10 0 1 0 -20 0M411.4 915a10 10 0 1 0 20 0a10 10 0 1 0 -20 0M415.2 897.6a10 10 0 1 0 20 0a10 10 0 1 0 -20 0M419 888.4a10 10 0 1 0 20 0a10 10 0 1 0 -20 0M422.7 883.2a10 10 0 1 0 20 0a10 10 0 1 0 -20 0M426.5 873.9a10 10 0 1 0 20 0a10 10 0 1 0 -20 0M430.2 860.3a10 10 0 1 0 20 0a10 10 0 1 0 -20 0M434 850.5a10 10 0 1 0 20 0a10 10 0 1 0 -20 0M437.8 848.6a10 10 0 1 0 20 0a10 10 0 1 0 -20 0M441.5 838.7a10 10 0 1 0 20 0a10 10 0 1 0 -20 0M445.3 824.7a10 10 0 1 0 20 0a10 10 0 1 0 -20 0M449.1 814.7a10 10 0 1 0 20 0a10 10 0 1 0 -20 0M452.8 804.8a10 10 0 1 0 20 0a10 10 0 1 0 -20 0M456.6 795a10 10 0 1 0 20 0a10 10 0 1 0 -20 0M460.4 789.4a10 10 0 1 0 20 0a10 10 0 1 0 -20 0M464.1 780a10 10 0 1 0 20 0a10 10 0 1 0 -20 0M467.9 771a10 10 0 1 0 20 0a10 10 0 1 0 -20 0M471.7 758.2a10 10 0 1 0 20 0a10 10 0 1 0 -20 0M475.4 749.8a10 10 0 1 0 20 0a10 10 0 1 0 -20 0M479.2 745.6a10 10 0 1 0 20 0a10 10 0 1 0 -20 0M483 737.8a10 10 0 1 0 20 0a10 10 0 1 0 -20 0M486.7 726.3a10 10 0 1 0 20 0a10 10 0 1 0 -20 0M490.5 715a10 10 0 1 0 20 0a10 10 0 1 0 -20 0M494.3 716a10 10 0 1 0 20 0a10 10 0 1 0 -20 0M498 709.2a10 10 0 1 0 20 0a10 10 0 1 0 -20 0M501.8 694.6a10 10 0 1 0 20 0a10 10 0 1 0 -20 0M505.5 696.1a10 10 0 1 0 20 0a10 10 0 1 0 -20 0M509.3 685.9a10 10 0 1 0 20 0a10 10 0 1 0 -20 0M513.1 679.8a10 10 0 1 0 20 0a10 10 0 1 0 -20 0M516.8 673.8a10 10 0 1 0 20 0a10 10 0 1 0 -20 0M520.6 667.9a10 10 0 1 0 20 0a10 10 0 1 0 -20 0M524.4 658.2a10 10 0 1 0 20 0a10 10 0 1 0 -20 0M528.1 652.5a10 10 0 1 0 20 0a10 10 0 1 0 -20 0M531.9 650.8a10 10 0 1 0 20 0a10 10 0 1 0 -20 0M535.7 645.2a10 10 0 1 0 20 0a10 10 0 1 0 -20 0M539.4 643.6a10 10 0 1 0 20 0a10 10 0 1 0 -20 0M543.2 638a10 10 0 1 0 20 0a10 10 0 1 0 -20 0M547 628.4a10 10 0 1 0 20 0a10 10 0 1 0 -20 0M550.7 618.7a10 10 0 1 0 20 0a10 10 0 1 0 -20 0M554.5 617a10 10 0 1 0 20 0a10 10 0 1 0 -20 0M558.3 615.2a10 10 0 1 0 20 0a10 10 0 1 0 -20 0M562 605.3a10 10 0 1 0 20 0a10 10 0 1 0 -20 0M565.8 603.3a10 10 0 1 0 20 0a10 10 0 1 0 -20 0M569.6 597.2a10 10 0 1 0 20 0a10 10 0 1 0 -20 0M573.3 590.9a10 10 0 1 0 20 0a10 10 0 1 0 -20 0M577.1 580.5a10 10 0 1 0 20 0a10 10 0 1 0 -20 0M580.8 573.8a10 10 0 1 0 20 0a10 10 0 1 0 -20 0M584.6 567a10 10 0 1 0 20 0a10 10 0 1 0 -20 0M588.4 557.7a10 10 0 1 0 20 0a10 10 0 1 0 -20 0M592.1 559.4a10 10 0 1 0 20 0a10 10 0 1 0 -20 0M595.9 557a10 10 0 1 0 20 0a10 10 0 1 0 -20 0M599.7 554.7a10 10 0 1 0 20 0a10 10 0 1 0 -20 0M603.4 548.4a10 10 0 1 0 20 0a10 10 0 1 0 -20 0M607.2 546.1a10 10 0 1 0 20 0a10 10 0 1 0 -20 0M611 547.1a10 10 0 1 0 20 0a10 10 0 1 0 -20 0M614.7 543.7a10 10 0 1 0 20 0a10 10 0 1 0 -20 0M618.5 540.2a10 10 0 1 0 20 0a10 10 0 1 0 -20 0M622.3 536.8a10 10 0 1 0 20 0a10 10 0 1 0 -20 0M626 537.4a10 10 0 1 0 20 0a10 10 0 1 0 -20 0M629.8 524.7a10 10 0 1 0 20 0a10 10 0 1 0 -20 0M633.6 519.5a10 10 0 1 0 20 0a10 10 0 1 0 -20 0M637.3 518.3a10 10 0 1 0 20 0a10 10 0 1 0 -20 0M641.1 517.1a10 10 0 1 0 20 0a10 10 0 1 0 -20 0M644.9 511.9a10 10 0 1 0 20 0a10 10 0 1 0 -20 0M648.6 498.2a10 10 0 1 0 20 0a10 10 0 1 0 -20 0M652.4 492.4a10 10 0 1 0 20 0a10 10 0 1 0 -20 0M656.1 486.6a10 10 0 1 0 20 0a10 10 0 1 0 -20 0M659.9 484.9a10 10 0 1 0 20 0a10 10 0 1 0 -20 0M663.7 483.1a10 10 0 1 0 20 0a10 10 0 1 0 -20 0M667.4 470.7a10 10 0 1 0 20 0a10 10 0 1 0 -20 0M671.2 474.7a10 10 0 1 0 20 0a10 10 0 1 0 -20 0M675 466.6a10 10 0 1 0 20 0a10 10 0 1 0 -20 0M678.7 462.5a10 10 0 1 0 20 0a10 10 0 1 0 -20 0M682.5 462.4a10 10 0 1 0 20 0a10 10 0 1 0 -20 0M686.3 459.2a10 10 0 1 0 20 0a10 10 0 1 0 -20 0M690 452.1a10 10 0 1 0 20 0a10 10 0 1 0 -20 0M693.8 449.1a10 10 0 1 0 20 0a10 10 0 1 0 -20 0M697.6 446a10 10 0 1 0 20 0a10 10 0 1 0 -20 0M701.3 438.9a10 10 0 1 0 20 0a10 10 0 1 0 -20 0M705.1 434.5a10 10 0 1 0 20 0a10 10 0 1 0 -20 0M708.9 430a10 10 0 1 0 20 0a10 10 0 1 0 -20 0M712.6 433.6a10 10 0 1 0 20 0a10 10 0 1 0 -20 0M716.4 421.1a10 10 0 1 0 20 0a10 10 0 1 0 -20 0M720.2 416.9a10 10 0 1 0 20 0a10 10 0 1 0 -20 0M723.9 415a10 10 0 1 0 20 0a10 10 0 1 0 -20 0M727.7 421.2a10 10 0 1 0 20 0a10 10 0 1 0 -20 0M731.4 419.3a10 10 0 1 0 20 0a10 10 0 1 0 -20 0M735.2 409.5a10 10 0 1 0 20 0a10 10 0 1 0 -20 0M739 415.8a10 10 0 1 0 20 0a10 10 0 1 0 -20 0M742.7 415a10 10 0 1 0 20 0a10 10 0 1 0 -20 0M746.5 414.2a10 10 0 1 0 20 0a10 10 0 1 0 -20 0M750.3 413.4a10 10 0 1 0 20 0a10 10 0 1 0 -20 0M754 404.5a10 10 0 1 0 20 0a10 10 0 1 0 -20 0M757.8 411.6a10 10 0 1 0 20 0a10 10 0 1 0 -20 0M761.6 402.4a10 10 0 1 0 20 0a10 10 0 1 0 -20 0M765.3 401.1a10 10 0 1 0 20 0a10 10 0 1 0 -20 0M769.1 399.9a10 10 0 1 0 20 0a10 10 0 1 0 -20 0M772.9 398.6a10 10 0 1 0 20 0a10 10 0 1 0 -20 0M776.6 396.7a10 10 0 1 0 20 0a10 10 0 1 0 -20 0M780.4 393a10 10 0 1 0 20 0a10 10 0 1 0 -20 0M784.2 389.4a10 10 0 1 0 20 0a10 10 0 1 0 -20 0M787.9 385.8a10 10 0 1 0 20 0a10 10 0 1 0 -20 0M791.7 386.2a10 10 0 1 0 20 0a10 10 0 1 0 -20 0M795.5 383.6a10 10 0 1 0 20 0a10 10 0 1 0 -20 0M799.2 382.7a10 10 0 1 0 20 0a10 10 0 1 0 -20 0M803 385.9a10 10 0 1 0 20 0a10 10 0 1 0 -20 0M806.7 377a10 10 0 1 0 20 0a10 10 0 1 0 -20 0M810.5 376.1a10 10 0 1 0 20 0a10 10 0 1 0 -20 0M814.3 374.1a10 10 0 1 0 20 0a10 10 0 1 0 -20 0M818 370.8a10 10 0 1 0 20 0a10 10 0 1 0 -20 0M821.8 371.4a10 10 0 1 0 20 0a10 10 0 1 0 -20 0M825.6 368a10 10 0 1 0 20 0a10 10 0 1 0 -20 0M829.3 364.6a10 10 0 1 0 20 0a10 10 0 1 0 -20 0M833.1 358.8a10 10 0 1 0 20 0a10 10 0 1 0 -20 0M836.9 362.6a10 10 0 1 0 20 0a10 10 0 1 0 -20 0M840.6 362.3a10 10 0 1 0 20 0a10 10 0 1 0 -20 0M844.4 366.1a10 10 0 1 0 20 0a10 10 0 1 0 -20 0M848.2 365.8a10 10 0 1 0 20 0a10 10 0 1 0 -20 0M851.9 365.3a10 10 0 1 0 20 0a10 10 0 1 0 -20 0M855.7 364.6a10 10 0 1 0 20 0a10 10 0 1 0 -20 0M859.5 363.9a10 10 0 1 0 20 0a10 10 0 1 0 -20 0M863.2 363.2a10 10 0 1 0 20 0a10 10 0 1 0 -20 0M867 362.4a10 10 0 1 0 20 0a10 10 0 1 0 -20 0M870.8 353.9a10 10 0 1 0 20 0a10 10 0 1 0 -20 0M874.5 357.5a10 10 0 1 0 20 0a10 10 0 1 0 -20 0M878.3 357a10 10 0 1 0 20 0a10 10 0 1 0 -20 0M882 356.6a10 10 0 1 0 20 0a10 10 0 1 0 -20 0M885.8 356.1a10 10 0 1 0 20 0a10 10 0 1 0 -20 0M889.6 355.3a10 10 0 1 0 20 0a10 10 0 1 0 -20 0M893.3 358.4a10 10 0 1 0 20 0a10 10 0 1 0 -20 0M897.1 357.5a10 10 0 1 0 20 0a10 10 0 1 0 -20 0M900.9 356.6a10 10 0 1 0 20 0a10 10 0 1 0 -20 0M904.6 355.7a10 10 0 1 0 20 0a10 10 0 1 0 -20 0M908.4 351.6a10 10 0 1 0 20 0a10 10 0 1 0 -20 0M912.2 351.7a10 10 0 1 0 20 0a10 10 0 1 0 -20 0M915.9 351.9a10 10 0 1 0 20 0a10 10 0 1 0 -20 0M919.7 352a10 10 0 1 0 20 0a10 10 0 1 0 -20 0M923.5 352.1a10 10 0 1 0 20 0a10 10 0 1 0 -20 0M927.2 355.4a10 10 0 1 0 20 0a10 10 0 1 0 -20 0M931 346.6a10 10 0 1 0 20 0a10 10 0 1 0 -20 0M934.8 345.8a10 10 0 1 0 20 0a10 10 0 1 0 -20 0M938.5 344.9a10 10 0 1 0 20 0a10 10 0 1 0 -20 0M942.3 352.1a10 10 0 1 0 20 0a10 10 0 1 0 -20 0M946.1 342.9a10 10 0 1 0 20 0a10 10 0 1 0 -20 0M949.8 349.7a10 10 0 1 0 20 0a10 10 0 1 0 -20 0M953.6 348.5a10 10 0 1 0 20 0a10 10 0 1 0 -20 0M957.3 343.3a10 10 0 1 0 20 0a10 10 0 1 0 -20 0M961.1 342.1a10 10 0 1 0 20 0a10 10 0 1 0 -20 0M964.9 345.6a10 10 0 1 0 20 0a10 10 0 1 0 -20 0M968.6 345.1a10 10 0 1 0 20 0a10 10 0 1 0 -20 0M972.4 344.6a10 10 0 1 0 20 0a10 10 0 1 0 -20 0M976.2 344.2a10 10 0 1 0 20 0a10 10 0 1 0 -20 0M979.9 339.6a10 10 0 1 0 20 0a10 10 0 1 0 -20 0M983.7 338.6a10 10 0 1 0 20 0a10 10 0 1 0 -20 0M987.5 337.6a10 10 0 1 0 20 0a10 10 0 1 0 -20 0M991.2 336.5a10 10 0 1 0 20 0a10 10 0 1 0 -20 0M995 335.5a10 10 0 1 0 20 0a10 10 0 1 0 -20 0M998.8 338.2a10 10 0 1 0 20 0a10 10 0 1 0 -20 0M1002.5 335.6a10 10 0 1 0 20 0a10 10 0 1 0 -20 0M1006.3 329.1a10 10 0 1 0 20 0a10 10 0 1 0 -20 0M1010.1 330.5a10 10 0 1 0 20 0a10 10 0 1 0 -20 0M1013.8 319.9a10 10 0 1 0 20 0a10 10 0 1 0 -20 0M1017.6 322.3a10 10 0 1 0 20 0a10 10 0 1 0 -20 0M1021.4 323.5a10 10 0 1 0 20 0a10 10 0 1 0 -20 0M1025.1 324.7a10 10 0 1 0 20 0a10 10 0 1 0 -20 0M1028.9 325.9a10 10 0 1 0 20 0a10 10 0 1 0 -20 0M1032.6 327.1a10 10 0 1 0 20 0a10 10 0 1 0 -20 0M1036.4 331.3a10 10 0 1 0 20 0a10 10 0 1 0 -20 0M1040.2 329.2a10 10 0 1 0 20 0a10 10 0 1 0 -20 0M1043.9 327.1a10 10 0 1 0 20 0a10 10 0 1 0 -20 0M1047.7 317a10 10 0 1 0 20 0a10 10 0 1 0 -20 0M1051.5 314.9a10 10 0 1 0 20 0a10 10 0 1 0 -20 0M1055.2 312.8a10 10 0 1 0 20 0a10 10 0 1 0 -20 0M1059 310.7a10 10 0 1 0 20 0a10 10 0 1 0 -20 0M1062.8 316.6a10 10 0 1 0 20 0a10 10 0 1 0 -20 0M1066.5 306.5a10 10 0 1 0 20 0a10 10 0 1 0 -20 0M1070.3 304.4a10 10 0 1 0 20 0a10 10 0 1 0 -20 0M1074.1 306.9a10 10 0 1 0 20 0a10 10 0 1 0 -20 0M1077.8 306.1a10 10 0 1 0 20 0a10 10 0 1 0 -20 0M1081.6 301.4a10 10 0 1 0 20 0a10 10 0 1 0 -20 0M1085.4 304.7a10 10 0 1 0 20 0a10 10 0 1 0 -20 0M1089.1 299.9a10 10 0 1 0 20 0a10 10 0 1 0 -20 0M1092.9 303.2a10 10 0 1 0 20 0a10 10 0 1 0 -20 0M1096.7 302.5a10 10 0 1 0 20 0a10 10 0 1 0 -20 0M1100.4 305.7a10 10 0 1 0 20 0a10 10 0 1 0 -20 0M1104.2 305a10 10 0 1 0 20 0a10 10 0 1 0 -20 0M1107.9 300.3a10 10 0 1 0 20 0a10 10 0 1 0 -20 0M1111.7 297.2a10 10 0 1 0 20 0a10 10 0 1 0 -20 0M1115.5 299.4a10 10 0 1 0 20 0a10 10 0 1 0 -20 0M1119.2 301.5a10 10 0 1 0 20 0a10 10 0 1 0 -20 0M1123 307.7a10 10 0 1 0 20 0a10 10 0 1 0 -20 0M1126.8 309.8a10 10 0 1 0 20 0a10 10 0 1 0 -20 0M1130.5 314a10 10 0 1 0 20 0a10 10 0 1 0 -20 0M1134.3 313.3a10 10 0 1 0 20 0a10 10 0 1 0 -20 0M1138.1 312.5a10 10 0 1 0 20 0a10 10 0 1 0 -20 0M1141.8 303.8a10 10 0 1 0 20 0a10 10 0 1 0 -20 0M1145.6 303a10 10 0 1 0 20 0a10 10 0 1 0 -20 0M1149.4 310.3a10 10 0 1 0 20 0a10 10 0 1 0 -20 0M1153.1 303.7a10 10 0 1 0 20 0a10 10 0 1 0 -20 0M1156.9 305.9a10 10 0 1 0 20 0a10 10 0 1 0 -20 0M1160.7 312.1a10 10 0 1 0 20 0a10 10 0 1 0 -20 0M1164.4 318.2a10 10 0 1 0 20 0a10 10 0 1 0 -20 0M1168.2 313.3a10 10 0 1 0 20 0a10 10 0 1 0 -20 0M1172 315.5a10 10 0 1 0 20 0a10 10 0 1 0 -20 0M1175.7 309.7a10 10 0 1 0 20 0a10 10 0 1 0 -20 0M1179.5 311.9a10 10 0 1 0 20 0a10 10 0 1 0 -20 0M1183.3 310.1a10 10 0 1 0 20 0a10 10 0 1 0 -20 0M1187 309.3a10 10 0 1 0 20 0a10 10 0 1 0 -20 0M1190.8 308.6a10 10 0 1 0 20 0a10 10 0 1 0 -20 0M1194.5 307.9a10 10 0 1 0 20 0a10 10 0 1 0 -20 0M1198.3 307.2a10 10 0 1 0 20 0a10 10 0 1 0 -20 0M1202.1 306.5a10 10 0 1 0 20 0a10 10 0 1 0 -20 0M1205.8 297.8a10 10 0 1 0 20 0a10 10 0 1 0 -20 0M1209.6 297.1a10 10 0 1 0 20 0a10 10 0 1 0 -20 0M1213.4 300.4a10 10 0 1 0 20 0a10 10 0 1 0 -20 0M1217.1 299.7a10 10 0 1 0 20 0a10 10 0 1 0 -20 0M1220.9 295a10 10 0 1 0 20 0a10 10 0 1 0 -20 0M1224.7 295.8a10 10 0 1 0 20 0a10 10 0 1 0 -20 0M1228.4 304.5a10 10 0 1 0 20 0a10 10 0 1 0 -20 0M1232.2 297.2a10 10 0 1 0 20 0a10 10 0 1 0 -20 0M1236 297.9a10 10 0 1 0 20 0a10 10 0 1 0 -20 0M1239.7 298.7a10 10 0 1 0 20 0a10 10 0 1 0 -20 0M1243.5 299.4a10 10 0 1 0 20 0a10 10 0 1 0 -20 0M1247.3 304.1a10 10 0 1 0 20 0a10 10 0 1 0 -20 0M1251 308.8a10 10 0 1 0 20 0a10 10 0 1 0 -20 0M1254.8 309.5a10 10 0 1 0 20 0a10 10 0 1 0 -20 0M1258.6 309.9a10 10 0 1 0 20 0a10 10 0 1 0 -20 0M1262.3 308.2a10 10 0 1 0 20 0a10 10 0 1 0 -20 0M1266.1 306.6a10 10 0 1 0 20 0a10 10 0 1 0 -20 0M1269.8 297a10 10 0 1 0 20 0a10 10 0 1 0 -20 0M1273.6 303.4a10 10 0 1 0 20 0a10 10 0 1 0 -20 0M1277.4 301.8a10 10 0 1 0 20 0a10 10 0 1 0 -20 0M1281.1 300.8a10 10 0 1 0 20 0a10 10 0 1 0 -20 0M1284.9 301.8a10 10 0 1 0 20 0a10 10 0 1 0 -20 0M1288.7 302.8a10 10 0 1 0 20 0a10 10 0 1 0 -20 0M1292.4 295.9a10 10 0 1 0 20 0a10 10 0 1 0 -20 0M1296.2 296.9a10 10 0 1 0 20 0a10 10 0 1 0 -20 0M1300 305.9a10 10 0 1 0 20 0a10 10 0 1 0 -20 0M1303.7 305.8a10 10 0 1 0 20 0a10 10 0 1 0 -20 0M1307.5 303.6a10 10 0 1 0 20 0a10 10 0 1 0 -20 0M1311.3 297.4a10 10 0 1 0 20 0a10 10 0 1 0 -20 0M1315 295.2a10 10 0 1 0 20 0a10 10 0 1 0 -20 0M1318.8 293a10 10 0 1 0 20 0a10 10 0 1 0 -20 0M1322.6 290.8a10 10 0 1 0 20 0a10 10 0 1 0 -20 0M1326.3 288.6a10 10 0 1 0 20 0a10 10 0 1 0 -20 0M1330.1 286.4a10 10 0 1 0 20 0a10 10 0 1 0 -20 0M1333.9 289.1a10 10 0 1 0 20 0a10 10 0 1 0 -20 0M1337.6 288.9a10 10 0 1 0 20 0a10 10 0 1 0 -20 0M1341.4 288.8a10 10 0 1 0 20 0a10 10 0 1 0 -20 0M1345.1 288.6a10 10 0 1 0 20 0a10 10 0 1 0 -20 0M1348.9 288.4a10 10 0 1 0 20 0a10 10 0 1 0 -20 0M1352.7 280.2a10 10 0 1 0 20 0a10 10 0 1 0 -20 0M1356.4 280a10 10 0 1 0 20 0a10 10 0 1 0 -20 0M1360.2 279.8a10 10 0 1 0 20 0a10 10 0 1 0 -20 0M1364 279.6a10 10 0 1 0 20 0a10 10 0 1 0 -20 0M1367.7 279.4a10 10 0 1 0 20 0a10 10 0 1 0 -20 0M1371.5 287.8a10 10 0 1 0 20 0a10 10 0 1 0 -20 0M1375.3 284.5a10 10 0 1 0 20 0a10 10 0 1 0 -20 0M1379 285.2a10 10 0 1 0 20 0a10 10 0 1 0 -20 0M1382.8 285.9a10 10 0 1 0 20 0a10 10 0 1 0 -20 0M1386.6 286.6a10 10 0 1 0 20 0a10 10 0 1 0 -20 0M1390.3 287.3a10 10 0 1 0 20 0a10 10 0 1 0 -20 0M1394.1 288a10 10 0 1 0 20 0a10 10 0 1 0 -20 0M1397.9 288.7a10 10 0 1 0 20 0a10 10 0 1 0 -20 0M1401.6 289.2a10 10 0 1 0 20 0a10 10 0 1 0 -20 0M1405.4 289a10 10 0 1 0 20 0a10 10 0 1 0 -20 0M1409.2 288.8a10 10 0 1 0 20 0a10 10 0 1 0 -20 0M1412.9 288.6a10 10 0 1 0 20 0a10 10 0 1 0 -20 0M1416.7 288.4a10 10 0 1 0 20 0a10 10 0 1 0 -20 0M1420.4 288.2a10 10 0 1 0 20 0a10 10 0 1 0 -20 0M1424.2 288a10 10 0 1 0 20 0a10 10 0 1 0 -20 0M1428 287.8a10 10 0 1 0 20 0a10 10 0 1 0 -20 0M1431.7 287.7a10 10 0 1 0 20 0a10 10 0 1 0 -20 0M1435.5 288a10 10 0 1 0 20 0a10 10 0 1 0 -20 0M1439.3 288.3a10 10 0 1 0 20 0a10 10 0 1 0 -20 0M1443 288.6a10 10 0 1 0 20 0a10 10 0 1 0 -20 0M1446.8 288.9a10 10 0 1 0 20 0a10 10 0 1 0 -20 0M1450.6 289.1a10 10 0 1 0 20 0a10 10 0 1 0 -20 0M1454.3 289.4a10 10 0 1 0 20 0a10 10 0 1 0 -20 0M1458.1 287.4a10 10 0 1 0 20 0a10 10 0 1 0 -20 0M1461.9 288a10 10 0 1 0 20 0a10 10 0 1 0 -20 0M1465.6 276.7a10 10 0 1 0 20 0a10 10 0 1 0 -20 0M1469.4 273.3a10 10 0 1 0 20 0a10 10 0 1 0 -20 0M1473.2 270a10 10 0 1 0 20 0a10 10 0 1 0 -20 0M1476.9 274.6a10 10 0 1 0 20 0a10 10 0 1 0 -20 0M1480.7 268a10 10 0 1 0 20 0a10 10 0 1 0 -20 0M1484.5 265.3a10 10 0 1 0 20 0a10 10 0 1 0 -20 0M1488.2 258.7a10 10 0 1 0 20 0a10 10 0 1 0 -20 0M1492 256.1a10 10 0 1 0 20 0a10 10 0 1 0 -20 0M1495.7 257.4a10 10 0 1 0 20 0a10 10 0 1 0 -20 0M1499.5 256.2a10 10 0 1 0 20 0a10 10 0 1 0 -20 0M1503.3 255.2a10 10 0 1 0 20 0a10 10 0 1 0 -20 0M1507 262.2a10 10 0 1 0 20 0a10 10 0 1 0 -20 0M1510.8 265.2a10 10 0 1 0 20 0a10 10 0 1 0 -20 0M1514.6 268.2a10 10 0 1 0 20 0a10 10 0 1 0 -20 0M1518.3 270.5a10 10 0 1 0 20 0a10 10 0 1 0 -20 0M1522.1 267.5a10 10 0 1 0 20 0a10 10 0 1 0 -20 0M1525.9 272.6a10 10 0 1 0 20 0a10 10 0 1 0 -20 0M1529.6 269.6a10 10 0 1 0 20 0a10 10 0 1 0 -20 0M1533.4 270.7a10 10 0 1 0 20 0a10 10 0 1 0 -20 0M1537.2 271.7a10 10 0 1 0 20 0a10 10 0 1 0 -20 0M1540.9 273a10 10 0 1 0 20 0a10 10 0 1 0 -20 0M1544.7 282.3a10 10 0 1 0 20 0a10 10 0 1 0 -20 0M1548.5 275.7a10 10 0 1 0 20 0a10 10 0 1 0 -20 0M1552.2 285.1a10 10 0 1 0 20 0a10 10 0 1 0 -20 0M1556 282.4a10 10 0 1 0 20 0a10 10 0 1 0 -20 0M1559.8 283.8a10 10 0 1 0 20 0a10 10 0 1 0 -20 0M1563.5 288.2a10 10 0 1 0 20 0a10 10 0 1 0 -20 0M1567.3 284.6a10 10 0 1 0 20 0a10 10 0 1 0 -20 0M1571 289.1a10 10 0 1 0 20 0a10 10 0 1 0 -20 0M1574.8 289.5a10 10 0 1 0 20 0a10 10 0 1 0 -20 0M1578.6 289.9a10 10 0 1 0 20 0a10 10 0 1 0 -20 0M1582.3 282.4a10 10 0 1 0 20 0a10 10 0 1 0 -20 0M1586.1 284.9a10 10 0 1 0 20 0a10 10 0 1 0 -20 0M1589.9 281.4a10 10 0 1 0 20 0a10 10 0 1 0 -20 0M1593.6 278a10 10 0 1 0 20 0a10 10 0 1 0 -20 0M1597.4 274.5a10 10 0 1 0 20 0a10 10 0 1 0 -20 0M1601.2 271a10 10 0 1 0 20 0a10 10 0 1 0 -20 0M1604.9 270.7a10 10 0 1 0 20 0a10 10 0 1 0 -20 0M1608.7 272.4a10 10 0 1 0 20 0a10 10 0 1 0 -20 0M1612.5 274.1a10 10 0 1 0 20 0a10 10 0 1 0 -20 0M1616.2 279.8a10 10 0 1 0 20 0a10 10 0 1 0 -20 0M1620 281.4a10 10 0 1 0 20 0a10 10 0 1 0 -20 0M1623.8 283.1a10 10 0 1 0 20 0a10 10 0 1 0 -20 0M1627.5 273.3a10 10 0 1 0 20 0a10 10 0 1 0 -20 0M1631.3 271.1a10 10 0 1 0 20 0a10 10 0 1 0 -20 0M1635.1 272.9a10 10 0 1 0 20 0a10 10 0 1 0 -20 0M1638.8 270.7a10 10 0 1 0 20 0a10 10 0 1 0 -20 0M1642.6 264.5a10 10 0 1 0 20 0a10 10 0 1 0 -20 0M1646.3 262.3a10 10 0 1 0 20 0a10 10 0 1 0 -20 0M1650.1 260.1a10 10 0 1 0 20 0a10 10 0 1 0 -20 0M1653.9 257.8a10 10 0 1 0 20 0a10 10 0 1 0 -20 0M1657.6 255.5a10 10 0 1 0 20 0a10 10 0 1 0 -20 0M1661.4 254a10 10 0 1 0 20 0a10 10 0 1 0 -20 0M1665.2 260.2a10 10 0 1 0 20 0a10 10 0 1 0 -20 0M1668.9 258.4a10 10 0 1 0 20 0a10 10 0 1 0 -20 0M1672.7 268.6a10 10 0 1 0 20 0a10 10 0 1 0 -20 0M1676.5 262.5a10 10 0 1 0 20 0a10 10 0 1 0 -20 0M1680.2 266.6a10 10 0 1 0 20 0a10 10 0 1 0 -20 0M1684 266.6a10 10 0 1 0 20 0a10 10 0 1 0 -20 0M1687.8 270.6a10 10 0 1 0 20 0a10 10 0 1 0 -20 0M1691.5 270.7a10 10 0 1 0 20 0a10 10 0 1 0 -20 0M1695.3 266.7a10 10 0 1 0 20 0a10 10 0 1 0 -20 0M1699.1 266.7a10 10 0 1 0 20 0a10 10 0 1 0 -20 0M1702.8 266.8a10 10 0 1 0 20 0a10 10 0 1 0 -20 0M1706.6 266.8a10 10 0 1 0 20 0a10 10 0 1 0 -20 0M1710.4 266.4a10 10 0 1 0 20 0a10 10 0 1 0 -20 0M1714.1 270.1a10 10 0 1 0 20 0a10 10 0 1 0 -20 0M1717.9 269.7a10 10 0 1 0 20 0a10 10 0 1 0 -20 0M1721.6 269.4a10 10 0 1 0 20 0a10 10 0 1 0 -20 0M1725.4 266a10 10 0 1 0 20 0a10 10 0 1 0 -20 0M1729.2 262.3a10 10 0 1 0 20 0a10 10 0 1 0 -20 0M1732.9 254.6a10 10 0 1 0 20 0a10 10 0 1 0 -20 0M1736.7 250.9a10 10 0 1 0 20 0a10 10 0 1 0 -20 0M1740.5 255a10 10 0 1 0 20 0a10 10 0 1 0 -20 0M1744.2 255.8a10 10 0 1 0 20 0a10 10 0 1 0 -20 0M1748 256.6a10 10 0 1 0 20 0a10 10 0 1 0 -20 0M1751.8 257.5a10 10 0 1 0 20 0a10 10 0 1 0 -20 0M1755.5 250.3a10 10 0 1 0 20 0a10 10 0 1 0 -20 0M1759.3 255.1a10 10 0 1 0 20 0a10 10 0 1 0 -20 0M1763.1 254.5a10 10 0 1 0 20 0a10 10 0 1 0 -20 0M1766.8 251a10 10 0 1 0 20 0a10 10 0 1 0 -20 0M1770.6 243.5a10 10 0 1 0 20 0a10 10 0 1 0 -20 0M1774.4 240a10 10 0 1 0 20 0a10 10 0 1 0 -20 0M1778.1 236.5a10 10 0 1 0 20 0a10 10 0 1 0 -20 0M1781.9 237a10 10 0 1 0 20 0a10 10 0 1 0 -20 0M1785.7 230a10 10 0 1 0 20 0a10 10 0 1 0 -20 0M1789.4 227.3a10 10 0 1 0 20 0a10 10 0 1 0 -20 0M1793.2 224.6a10 10 0 1 0 20 0a10 10 0 1 0 -20 0M1796.9 221.9a10 10 0 1 0 20 0a10 10 0 1 0 -20 0M1800.7 220.7a10 10 0 1 0 20 0a10 10 0 1 0 -20 0M1804.5 220.6a10 10 0 1 0 20 0a10 10 0 1 0 -20 0M1808.2 220.5a10 10 0 1 0 20 0a10 10 0 1 0 -20 0M1812 220.4a10 10 0 1 0 20 0a10 10 0 1 0 -20 0M1815.8 224.3a10 10 0 1 0 20 0a10 10 0 1 0 -20 0M1819.5 224.2a10 10 0 1 0 20 0a10 10 0 1 0 -20 0M1823.3 224.1a10 10 0 1 0 20 0a10 10 0 1 0 -20 0M1827.1 224.1a10 10 0 1 0 20 0a10 10 0 1 0 -20 0M1830.8 219.7a10 10 0 1 0 20 0a10 10 0 1 0 -20 0M1834.6 219.1a10 10 0 1 0 20 0a10 10 0 1 0 -20 0M1838.4 218.5a10 10 0 1 0 20 0a10 10 0 1 0 -20 0M1842.1 217.9a10 10 0 1 0 20 0a10 10 0 1 0 -20 0M1845.9 217.3a10 10 0 1 0 20 0a10 10 0 1 0 -20 0M1849.7 216.4a10 10 0 1 0 20 0a10 10 0 1 0 -20 0M1853.4 219.5a10 10 0 1 0 20 0a10 10 0 1 0 -20 0M1857.2 222.6a10 10 0 1 0 20 0a10 10 0 1 0 -20 0M1861 222.3a10 10 0 1 0 20 0a10 10 0 1 0 -20 0M1864.7 220.9a10 10 0 1 0 20 0a10 10 0 1 0 -20 0M1868.5 227.4a10 10 0 1 0 20 0a10 10 0 1 0 -20 0M1872.2 229.9a10 10 0 1 0 20 0a10 10 0 1 0 -20 0M1876 224.4a10 10 0 1 0 20 0a10 10 0 1 0 -20 0M1879.8 234.4a10 10 0 1 0 20 0a10 10 0 1 0 -20 0M1883.5 236.5a10 10 0 1 0 20 0a10 10 0 1 0 -20 0M1887.3 238.5a10 10 0 1 0 20 0a10 10 0 1 0 -20 0M1891.1 240.2a10 10 0 1 0 20 0a10 10 0 1 0 -20 0M1894.8 238.9a10 10 0 1 0 20 0a10 10 0 1 0 -20 0M1898.6 229.7a10 10 0 1 0 20 0a10 10 0 1 0 -20 0M1902.4 228.4a10 10 0 1 0 20 0a10 10 0 1 0 -20 0M1906.1 226.9a10 10 0 1 0 20 0a10 10 0 1 0 -20 0M1909.9 223.3a10 10 0 1 0 20 0a10 10 0 1 0 -20 0M1913.7 219.7a10 10 0 1 0 20 0a10 10 0 1 0 -20 0M1917.4 216.1a10 10 0 1 0 20 0a10 10 0 1 0 -20 0M1921.2 220.5a10 10 0 1 0 20 0a10 10 0 1 0 -20 0M1925 218.3a10 10 0 1 0 20 0a10 10 0 1 0 -20 0M1928.7 212a10 10 0 1 0 20 0a10 10 0 1 0 -20 0M1932.5 209.8a10 10 0 1 0 20 0a10 10 0 1 0 -20 0M1936.3 207.8a10 10 0 1 0 20 0a10 10 0 1 0 -20 0M1940 210.5a10 10 0 1 0 20 0a10 10 0 1 0 -20 0M1943.8 217.2a10 10 0 1 0 20 0a10 10 0 1 0 -20 0M1947.5 219.9a10 10 0 1 0 20 0a10 10 0 1 0 -20 0M1951.3 218.5a10 10 0 1 0 20 0a10 10 0 1 0 -20 0M1955.1 219.4a10 10 0 1 0 20 0a10 10 0 1 0 -20 0M1958.8 220.3a10 10 0 1 0 20 0a10 10 0 1 0 -20 0M1962.6 217.2a10 10 0 1 0 20 0a10 10 0 1 0 -20 0M1966.4 218a10 10 0 1 0 20 0a10 10 0 1 0 -20 0M1970.1 216.6a10 10 0 1 0 20 0a10 10 0 1 0 -20 0M1973.9 215a10 10 0 1 0 20 0a10 10 0 1 0 -20 0M1977.7 221.4a10 10 0 1 0 20 0a10 10 0 1 0 -20 0M1981.4 219.9a10 10 0 1 0 20 0a10 10 0 1 0 -20 0M1985.2 212.7a10 10 0 1 0 20 0a10 10 0 1 0 -20 0M1989 213.5a10 10 0 1 0 20 0a10 10 0 1 0 -20 0M1992.7 206.3a10 10 0 1 0 20 0a10 10 0 1 0 -20 0M1996.5 207.1a10 10 0 1 0 20 0a10 10 0 1 0 -20 0M2000.3 207.4a10 10 0 1 0 20 0a10 10 0 1 0 -20 0M2004 204.1a10 10 0 1 0 20 0a10 10 0 1 0 -20 0M2007.8 204.7a10 10 0 1 0 20 0a10 10 0 1 0 -20 0M2011.6 209.4a10 10 0 1 0 20 0a10 10 0 1 0 -20 0M2015.3 200.7a10 10 0 1 0 20 0a10 10 0 1 0 -20 0M2019.1 199.8a10 10 0 1 0 20 0a10 10 0 1 0 -20 0M2022.8 202.9a10 10 0 1 0 20 0a10 10 0 1 0 -20 0M2026.6 198.1a10 10 0 1 0 20 0a10 10 0 1 0 -20 0M2030.4 202.2a10 10 0 1 0 20 0a10 10 0 1 0 -20 0M2034.1 202.4a10 10 0 1 0 20 0a10 10 0 1 0 -20 0"/>
<path fill="none" stroke="#0574c6" stroke-width="3" d="M1493 1117l11 20h-22zM1515 1117l11 20h-22zM1537 1117l11 20h-22z"/>
<path fill="none" stroke="#00bb6c" stroke-width="3.6" d="M1475.5 1207.5h21v21h-21zM1501.5 1207.5h21v21h-21zM1527.5 1207.5h21v21h-21z"/>
<path fill="none" stroke="#fa7f34" stroke-width="3" d="M1482 1306.5a10 10 0 1 0 20 0a10 10 0 1 0 -20 0M1505 1306.5a10 10 0 1 0 20 0a10 10 0 1 0 -20 0M1528.2 1306.5a10 10 0 1 0 20 0a10 10 0 1 0 -20 0"/>
<g class="lg">
<text x="1564" y="1144.5"><tspan font-style="italic">H</tspan>=0</text>
<text x="1564" y="1234.3"><tspan font-style="italic">H</tspan>=135 kA/m</text>
<text x="1564" y="1324"><tspan font-style="italic">H</tspan>=270 kA/m</text>
</g>
</g></svg>
</body></html>
